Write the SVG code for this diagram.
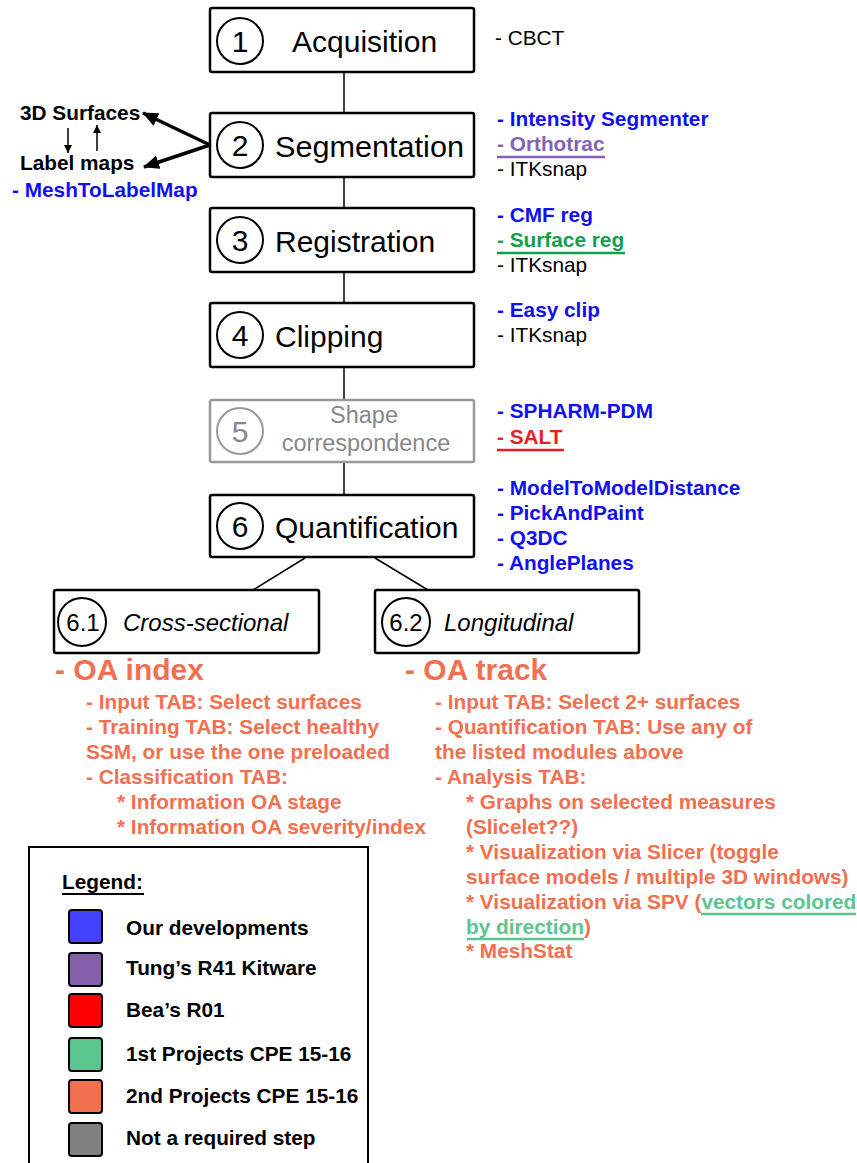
<svg xmlns="http://www.w3.org/2000/svg" width="857" height="1163" viewBox="0 0 857 1163">
<style>
text{font-family:"Liberation Sans",Arial,sans-serif}
.box{fill:#fff;stroke:#000;stroke-width:2.5}
.gbox{fill:#fff;stroke:#999;stroke-width:2.5}
.circ{fill:none;stroke:#000;stroke-width:2}
.gcirc{fill:none;stroke:#999;stroke-width:2}
.title{font-size:30px;fill:#000}
.num{font-size:30px;fill:#000;text-anchor:middle}
.sub{font-size:24px;font-style:italic;fill:#000}
.subnum{font-size:24px;fill:#000;text-anchor:middle}
.s{font-size:20.8px}
.b{font-weight:bold}
.blue{fill:#1010F0}
.purple{fill:#8463B4}
.green{fill:#12A04E}
.red{fill:#E81E24}
.blk{fill:#000}
.or{fill:#F07050}
.lg{fill:#5CC590}
.big{font-size:30px;font-weight:bold;fill:#F07050}
.conn{stroke:#000;stroke-width:1.5;fill:none}
.sw{stroke:#000;stroke-width:2}
</style>
<defs>
<marker id="ah" markerWidth="16" markerHeight="14" refX="15" refY="7" orient="auto" markerUnits="userSpaceOnUse" viewBox="0 0 16 14">
<path d="M0,0 L16,7 L0,14 z" fill="#000"/>
</marker>
<marker id="ahs" markerWidth="8" markerHeight="8" refX="8" refY="4" orient="auto" markerUnits="userSpaceOnUse" viewBox="0 0 8 8">
<path d="M0,0 L8,4 L0,8 z" fill="#000"/>
</marker>
</defs>

<g id="connectors">
<line class="conn" x1="344" y1="72" x2="344" y2="113"/>
<line class="conn" x1="344" y1="177" x2="344" y2="208"/>
<line class="conn" x1="344" y1="272" x2="344" y2="303"/>
<line class="conn" x1="344" y1="367" x2="344" y2="401"/>
<line class="conn" x1="344" y1="462" x2="344" y2="495"/>
<line class="conn" x1="305" y1="558" x2="253" y2="590"/>
<line class="conn" x1="375" y1="558" x2="428" y2="590"/>
<line stroke="#000" stroke-width="3.5" x1="210" y1="145" x2="143" y2="113" marker-end="url(#ah)"/>
<line stroke="#000" stroke-width="3.5" x1="210" y1="145" x2="144" y2="167" marker-end="url(#ah)"/>
<line stroke="#000" stroke-width="1.5" x1="68" y1="128" x2="68" y2="153" marker-end="url(#ahs)"/>
<line stroke="#000" stroke-width="1.5" x1="97" y1="151" x2="97" y2="125" marker-end="url(#ahs)"/>
</g>

<g id="node1">
<rect class="box" x="210" y="8" width="264" height="64" rx="2"/>
<circle class="circ" cx="240" cy="41" r="23"/>
<text class="num" x="240" y="52">1</text>
<text class="title" x="292" y="52">Acquisition</text>
</g>
<g id="node2">
<rect class="box" x="210" y="113" width="264" height="64" rx="2"/>
<circle class="circ" cx="240" cy="145" r="23"/>
<text class="num" x="240" y="156">2</text>
<text class="title" x="275" y="157" textLength="189" lengthAdjust="spacingAndGlyphs">Segmentation</text>
</g>
<g id="node3">
<rect class="box" x="210" y="208" width="264" height="64" rx="2"/>
<circle class="circ" cx="240" cy="240" r="23"/>
<text class="num" x="240" y="251">3</text>
<text class="title" x="275" y="252">Registration</text>
</g>
<g id="node4">
<rect class="box" x="210" y="303" width="264" height="64" rx="2"/>
<circle class="circ" cx="240" cy="335" r="23"/>
<text class="num" x="240" y="346">4</text>
<text class="title" x="275" y="347">Clipping</text>
</g>
<g id="node5">
<rect class="gbox" x="210" y="400" width="264" height="62" rx="2"/>
<circle class="gcirc" cx="240" cy="431" r="23"/>
<text class="num" x="240" y="442" style="fill:#888">5</text>
<text x="364" y="423" font-size="23.5" fill="#888" text-anchor="middle">Shape</text>
<text x="366" y="451" font-size="23.5" fill="#888" text-anchor="middle">correspondence</text>
</g>
<g id="node6">
<rect class="box" x="210" y="495" width="264" height="62" rx="2"/>
<circle class="circ" cx="240" cy="526" r="23"/>
<text class="num" x="240" y="537">6</text>
<text class="title" x="275" y="538">Quantification</text>
</g>
<g id="node61">
<rect class="box" x="54" y="590" width="265" height="63" rx="2"/>
<circle class="circ" cx="82" cy="622" r="24"/>
<text class="subnum" x="83" y="631">6.1</text>
<text class="sub" x="123" y="631">Cross-sectional</text>
</g>
<g id="node62">
<rect class="box" x="375" y="590" width="264" height="63" rx="2"/>
<circle class="circ" cx="406" cy="622" r="24"/>
<text class="subnum" x="406" y="631">6.2</text>
<text class="sub" x="444" y="631">Longitudinal</text>
</g>

<g id="left-labels">
<text class="s b blk" x="20" y="120">3D Surfaces</text>
<text class="s b blk" x="20" y="170">Label maps</text>
<text class="s b blue" x="12" y="197">- MeshToLabelMap</text>
</g>

<g id="tools">
<text class="s blk" x="495" y="45">- CBCT</text>
<text class="s b blue" x="497" y="126">- Intensity Segmenter</text>
<text class="s b purple" x="497" y="151">- Orthotrac</text>
<line x1="497" y1="157" x2="605" y2="157" stroke="#8463B4" stroke-width="2.5"/>
<text class="s blk" x="497" y="176">- ITKsnap</text>
<text class="s b blue" x="497" y="222">- CMF reg</text>
<text class="s b green" x="497" y="247">- Surface reg</text>
<line x1="497" y1="253" x2="625" y2="253" stroke="#12A04E" stroke-width="2.5"/>
<text class="s blk" x="497" y="272">- ITKsnap</text>
<text class="s b blue" x="497" y="317">- Easy clip</text>
<text class="s blk" x="497" y="342">- ITKsnap</text>
<text class="s b blue" x="497" y="418">- SPHARM-PDM</text>
<text class="s b red" x="497" y="444">- SALT</text>
<line x1="497" y1="450" x2="564" y2="450" stroke="#E81E24" stroke-width="2.5"/>
<text class="s b blue" x="497" y="495">- ModelToModelDistance</text>
<text class="s b blue" x="497" y="520">- PickAndPaint</text>
<text class="s b blue" x="497" y="545">- Q3DC</text>
<text class="s b blue" x="497" y="570">- AnglePlanes</text>
</g>

<g id="oa-index">
<text class="big" x="55" y="680">- OA index</text>
<text class="s b or" x="86" y="709">- Input TAB: Select surfaces</text>
<text class="s b or" x="86" y="734">- Training TAB: Select healthy</text>
<text class="s b or" x="86" y="759">SSM, or use the one preloaded</text>
<text class="s b or" x="86" y="784">- Classification TAB:</text>
<text class="s b or" x="117" y="809">* Information OA stage</text>
<text class="s b or" x="117" y="834">* Information OA severity/index</text>
</g>

<g id="oa-track">
<text class="big" x="405" y="680">- OA track</text>
<text class="s b or" x="435" y="709">- Input TAB: Select 2+ surfaces</text>
<text class="s b or" x="435" y="734">- Quantification TAB: Use any of</text>
<text class="s b or" x="435" y="759">the listed modules above</text>
<text class="s b or" x="435" y="784">- Analysis TAB:</text>
<text class="s b or" x="466" y="809">* Graphs on selected measures</text>
<text class="s b or" x="466" y="834">(Slicelet??)</text>
<text class="s b or" x="466" y="859">* Visualization via Slicer (toggle</text>
<text class="s b or" x="466" y="884">surface models / multiple 3D windows)</text>
<text class="s b or" x="466" y="909">* Visualization via SPV (<tspan class="lg">vectors colored</tspan></text>
<text class="s b or" x="466" y="934"><tspan class="lg">by direction</tspan>)</text>
<line x1="701" y1="914" x2="856" y2="914" stroke="#5CC590" stroke-width="2.5"/>
<line x1="467" y1="939" x2="584" y2="939" stroke="#5CC590" stroke-width="2.5"/>
<text class="s b or" x="466" y="958">* MeshStat</text>
</g>

<g id="legend">
<rect x="29" y="847" width="339" height="330" fill="#fff" stroke="#000" stroke-width="2"/>
<text class="s b blk" x="62" y="889">Legend:</text>
<line x1="62" y1="894" x2="144" y2="894" stroke="#000" stroke-width="2"/>
<rect class="sw" x="69" y="910" width="33" height="33" rx="3" fill="#4343FF"/>
<text class="s b blk" x="126" y="935">Our developments</text>
<rect class="sw" x="69" y="953" width="33" height="33" rx="3" fill="#8460AA"/>
<text class="s b blk" x="126" y="975">Tung’s R41 Kitware</text>
<rect class="sw" x="69" y="994" width="33" height="33" rx="3" fill="#FF0000"/>
<text class="s b blk" x="126" y="1017">Bea’s R01</text>
<rect class="sw" x="69" y="1038" width="33" height="33" rx="3" fill="#5BC58F"/>
<text class="s b blk" x="126" y="1061">1st Projects CPE 15-16</text>
<rect class="sw" x="69" y="1080" width="33" height="33" rx="3" fill="#F07050"/>
<text class="s b blk" x="126" y="1103">2nd Projects CPE 15-16</text>
<rect class="sw" x="69" y="1123" width="33" height="33" rx="3" fill="#808080"/>
<text class="s b blk" x="126" y="1145">Not a required step</text>
</g>
</svg>
